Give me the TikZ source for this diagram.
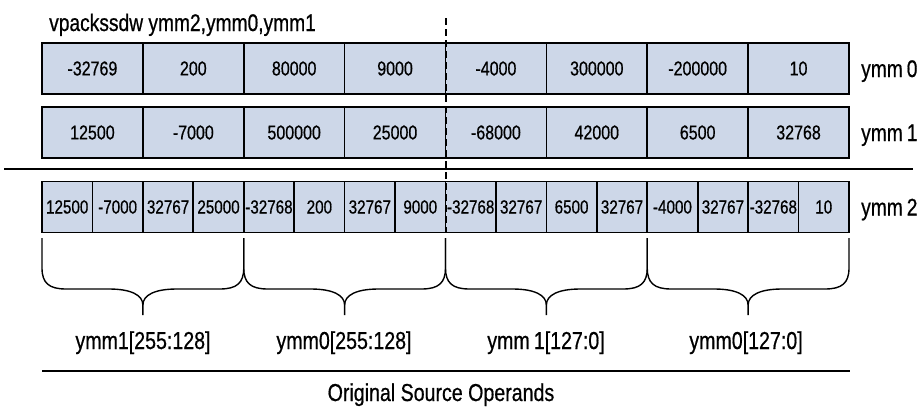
\documentclass[tikz,border=0pt]{standalone}
\usepackage{fontspec}
\setmainfont{Liberation Sans}[FakeStretch=0.8,FakeBold=0.6]
\definecolor{cellfill}{RGB}{205,215,232}
\begin{document}
\begin{tikzpicture}[x=1pt,y=-1pt,
  cellbox/.style={draw=black,line width=1.7pt,fill=cellfill,minimum height=51pt,inner sep=0pt,font=\fontsize{19}{22}\selectfont},
  widecell/.style={cellbox,minimum width=100.875pt,font=\fontsize{20}{23}\selectfont},
  narrowcell/.style={cellbox,minimum width=50.4375pt},
  reglabel/.style={anchor=base west,inner sep=0pt,font=\fontsize{24}{28}\selectfont},
  bracelabel/.style={anchor=base,inner sep=0pt,font=\fontsize{24.5}{28}\selectfont},
  bracepath/.style={line width=1.4pt},
  rule/.style={line width=1.5pt}]
\useasboundingbox (0,0) rectangle (922,407);
\node[anchor=base west,inner sep=0pt,font=\fontsize{24}{28}\selectfont] (title) at (49,31) {vpackssdw ymm2,ymm0,ymm1};
% ymm0
\foreach \v [count=\i] in {-32769,200,80000,9000,-4000,300000,-200000,10}
  \node[widecell] (a\i) at ({42+100.875*(\i-0.5)},68.5) {\v};
% ymm1
\foreach \v [count=\i] in {12500,-7000,500000,25000,-68000,42000,6500,32768}
  \node[widecell] (b\i) at ({42+100.875*(\i-0.5)},132.5) {\v};
% separator
\coordinate (sepL) at (4,169);
\coordinate (sepR) at (913,169);
\draw[rule] (sepL) -- (sepR);
% ymm2
\foreach \v [count=\i] in {12500,-7000,32767,25000,-32768,200,32767,9000,-32768,32767,6500,32767,-4000,32767,-32768,10}
  \node[narrowcell] (c\i) at ({42+50.4375*(\i-0.5)},207) {\v};
% register labels
\node[reglabel] (r0) at (861,77) {ymm\,0};
\node[reglabel] (r1) at (861,141) {ymm\,1};
\node[reglabel] (r2) at (861,215.5) {ymm\,2};
% dashed divider
\coordinate (dtop) at (446,18);
\coordinate (dbot) at (446,232);
\draw[line width=1.5pt,dash pattern=on 7pt off 4pt] (dtop) -- (dbot);
% braces
\foreach \k in {0,1,2,3} {
  \pgfmathsetmacro\xa{42+201.75*\k}
  \pgfmathsetmacro\xb{\xa+201.75}
  \pgfmathsetmacro\xc{\xa+100.875}
  \draw[bracepath] (\xa,238) -- (\xa,268) .. controls (\xa,283) and (\xa+7,289) .. (\xa+24,289)
     -- (\xc-34,289) .. controls (\xc-12,289) and (\xc,295) .. (\xc,305) -- (\xc,315);
  \draw[bracepath] (\xb,238) -- (\xb,268) .. controls (\xb,283) and (\xb-7,289) .. (\xb-24,289)
     -- (\xc+34,289) .. controls (\xc+12,289) and (\xc,295) .. (\xc,305);
}
\node[bracelabel] (l1) at (143,349) {ymm1[255:128]};
\node[bracelabel] (l2) at (344,349) {ymm0[255:128]};
\node[bracelabel] (l3) at (546,349) {ymm\,1[127:0]};
\node[bracelabel] (l4) at (746,349) {ymm0[127:0]};
\coordinate (botL) at (42,371);
\coordinate (botR) at (850,371);
\draw[rule] (botL) -- (botR);
\node[bracelabel] (orig) at (441,401) {Original Source Operands};
\end{tikzpicture}
\end{document}
